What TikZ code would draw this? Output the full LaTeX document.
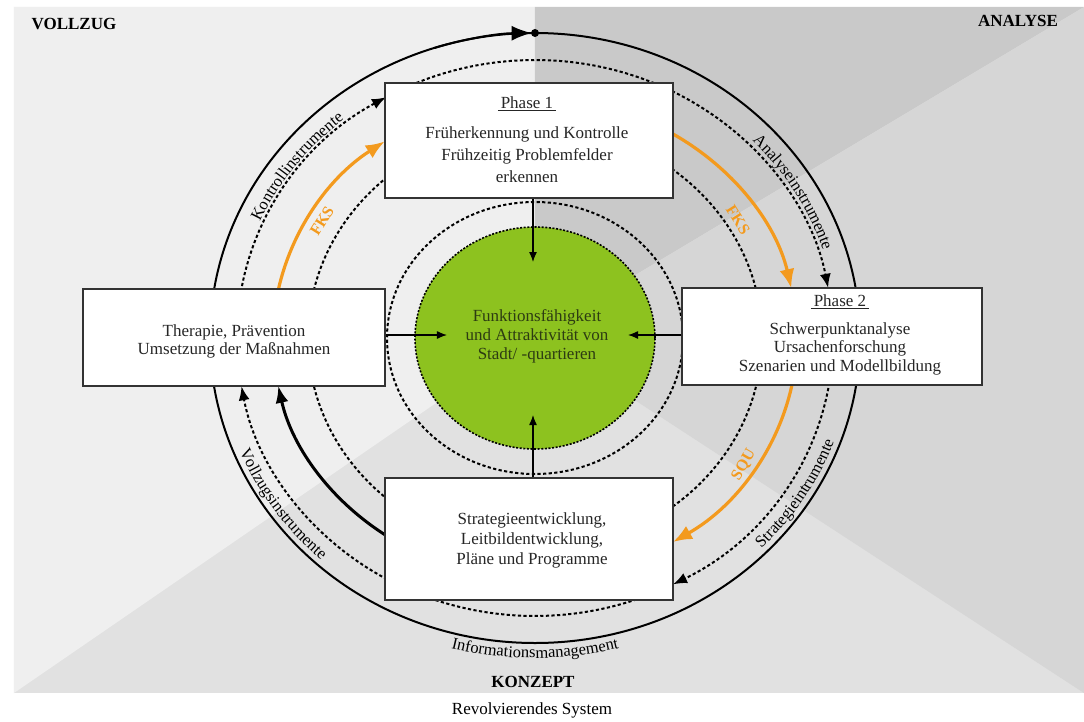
\documentclass[tikz,border=0pt]{standalone}
\usepackage{fontspec}
\setmainfont{Liberation Serif}
\usetikzlibrary{arrows.meta,decorations.text,shapes.geometric}
\definecolor{bgVoll}{HTML}{EFEFEF}
\definecolor{bgAna}{HTML}{C9C9C9}
\definecolor{bgRight}{HTML}{D6D6D6}
\definecolor{bgKon}{HTML}{E1E1E1}
\definecolor{fksorange}{RGB}{243,154,30}
\definecolor{kerngreen}{RGB}{141,194,31}
\definecolor{kerntext}{RGB}{45,60,18}
\newcommand\mycurvefont{\fontsize{16.5}{17}\selectfont}
\begin{document}
\begin{tikzpicture}[x=1pt,y=1pt,
  boxnode/.style={draw=black!80, line width=1.5pt, fill=white, inner sep=0pt},
  boxtext/.style={align=center, text=black!85, inner sep=0pt},
  dsh/.style={dash pattern=on 3.2pt off 2.4pt, line width=2pt},
  dshtip/.style={-{Latex[length=14pt,width=11pt]}},
  orangearc/.style={draw=fksorange, line width=3.2pt, -{Latex[length=19pt,width=15pt]}},
  blackarc/.style={draw=black, line width=3pt, -{Latex[length=17pt,width=13pt]}},
  garrow/.style={line width=1.3pt, -{Latex[length=10pt,width=8pt]}},
  hdr/.style={font=\fontsize{17}{20}\selectfont\bfseries, inner sep=0pt},
  lbl/.style={text=fksorange, font=\fontsize{16}{17}\selectfont\bfseries, inner sep=0pt},
  curved/.style={decorate, decoration={text along path, text align=center, text={|\mycurvefont|#1}}}
]
\useasboundingbox (-535,-383) rectangle (549,338);
\fill[white] (-535,-383) rectangle (549,338);
% background sectors
\fill[bgKon] (-521,-355) rectangle (549,331);
\fill[bgVoll] (0,331) -- (-521,331) -- (-521,-355) -- (0,3) -- cycle;
\fill[bgAna] (0,331) -- (549,331) -- (0,3) -- cycle;
\fill[bgRight] (549,331) -- (549,-355) -- (0,3) -- cycle;

% outer solid ring
\draw[line width=2pt] (0,0) ellipse [x radius=325, y radius=305];
% second dashed ring with arrows
\draw[dsh, dshtip] (190:298 and 278) arc[start angle=190, end angle=120, x radius=298, y radius=278];
\draw[dsh, dshtip] (120:298 and 278) arc[start angle=120, end angle=10.4, x radius=298, y radius=278];
\draw[dsh, dshtip] (10.4:298 and 278) arc[start angle=10.4, end angle=-62.4, x radius=298, y radius=278];
\draw[dsh, dshtip] (-62.4:298 and 278) arc[start angle=-62.4, end angle=-170, x radius=298, y radius=278];
% inner dashed rings
\draw[dsh] (0,0) ellipse [x radius=227, y radius=212];
\draw[dsh] (0,0) ellipse [x radius=148, y radius=136];
% orange and black arcs
\draw[orangearc] (172:262 and 240) arc[start angle=172, end angle=125, x radius=262, y radius=240];
\draw[orangearc] (60:262 and 240) arc[start angle=60, end angle=12, x radius=262, y radius=240];
\draw[orangearc] (-8:262 and 240) arc[start angle=-8, end angle=-58.2, x radius=262, y radius=240];
\draw[blackarc] (237:262 and 240) arc[start angle=237, end angle=191.5, x radius=262, y radius=240];

% centre
\node[ellipse, minimum width=240, minimum height=222, fill=kerngreen, draw=black,
      dash pattern=on 2pt off 1.6pt, line width=1.6pt, inner sep=0pt] (green) at (0,0) {};
\node[boxtext, text=kerntext, font=\fontsize{17}{19}\selectfont] (greent) at (2,2)
  {Funktionsfähigkeit\\ und Attraktivität von\\ Stadt/ -quartieren};

% boxes
\node[boxnode, minimum width=288, minimum height=115] (p1) at (-6,197.5) {};
\node[boxnode, minimum width=300, minimum height=97] (p2) at (297,1.5) {};
\node[boxnode, minimum width=302, minimum height=97] (lb) at (-301,0.5) {};
\node[boxnode, minimum width=288, minimum height=122] (bb) at (-6,-201) {};

\node[boxtext, font=\fontsize{17}{22}\selectfont] (p1t) at (-8,198)
  {\underline{\,Phase 1\,}\\[8pt] Früherkennung und Kontrolle\\ Frühzeitig Problemfelder\\ erkennen};
\node[boxtext, font=\fontsize{17}{18.5}\selectfont] (p2t) at (305,3)
  {\underline{\,Phase 2\,}\\[9pt] Schwerpunktanalyse\\ Ursachenforschung\\ Szenarien und Modellbildung};
\node[boxtext, font=\fontsize{17}{18}\selectfont] (lbt) at (-301,-3)
  {Therapie, Prävention\\ Umsetzung der Maßnahmen};
\node[boxtext, font=\fontsize{17}{20}\selectfont] (bbt) at (-3,-202)
  {Strategieentwicklung,\\ Leitbildentwicklung,\\ Pläne und Programme};

% arrows into the centre
\coordinate (tipN) at (-2,76);
\coordinate (tipS) at (-2,-77);
\coordinate (tipW) at (-88,3);
\coordinate (tipE) at (93,3);
\draw[garrow] (p1.south -| tipN) -- (tipN);
\draw[garrow] (bb.north -| tipS) -- (tipS);
\draw[garrow] (lb.east |- tipW) -- (tipW);
\draw[garrow] (p2.west |- tipE) -- (tipE);

% arrow and dot on outer ring
\draw[line width=2pt, -{Latex[length=20pt,width=15pt]}] (108:325 and 305) arc[start angle=108, end angle=90.6, x radius=325, y radius=305];
\fill (0,305) circle (4);

% orange labels
\node[lbl, rotate=58] (fks1) at (-213,117) {FKS};
\node[lbl, rotate=-58] (fks2) at (203,118) {FKS};
\node[lbl, rotate=60] (squ) at (209,-127) {SQU};

% curved labels
\path[curved={Kontrollinstrumente}] (160:302 and 282) arc[start angle=160, end angle=125, x radius=302, y radius=282];
\path[curved={Analyseinstrumente}] (49:303 and 283) arc[start angle=49, end angle=13, x radius=303, y radius=283];
\path[curved={Strategieintrumente}] (-49:319 and 299) arc[start angle=-49, end angle=-16, x radius=319, y radius=299];
\path[curved={Vollzugsinstrumente}] (197:319 and 299) arc[start angle=197, end angle=233, x radius=319, y radius=299];
\path[curved={Informationsmanagement}] (252:340 and 320) arc[start angle=252, end angle=288, x radius=340, y radius=320];

% headers
\node[hdr] (voll) at (-461,314) {VOLLZUG};
\node[hdr] (ana) at (483,317) {ANALYSE};
\node[hdr] (kon) at (-2,-344) {KONZEPT};
\node[font=\fontsize{17}{20}\selectfont, inner sep=0pt] (rev) at (-3,-372) {Revolvierendes System};
\end{tikzpicture}
\end{document}
